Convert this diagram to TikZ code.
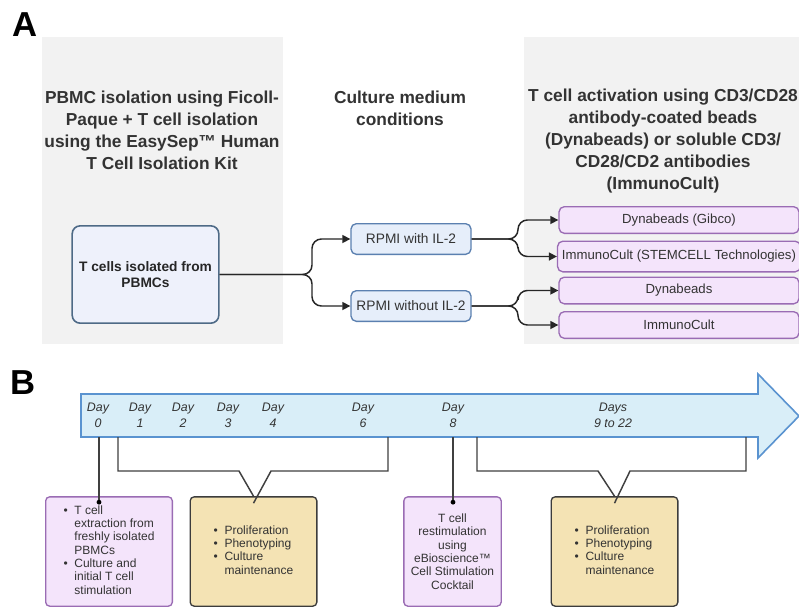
\documentclass[tikz,border=0pt]{standalone}
\usepackage{fontspec}
\setmainfont{Liberation Sans}
\usetikzlibrary{arrows.meta}

\definecolor{panelgray}{HTML}{F2F2F2}
\definecolor{txtgray}{HTML}{333333}
\definecolor{tcfill}{HTML}{EEF1FB}
\definecolor{tcline}{HTML}{4E6A86}
\definecolor{rpfill}{HTML}{E6EEFA}
\definecolor{rpline}{HTML}{5B80B0}
\definecolor{purfill}{HTML}{F4E4FB}
\definecolor{purline}{HTML}{9A6CB4}
\definecolor{begfill}{HTML}{F4E3B4}
\definecolor{begline}{HTML}{3C3C3C}
\definecolor{arrfill}{HTML}{D9EEF8}
\definecolor{arrline}{HTML}{5A93D0}

\begin{document}
\begin{tikzpicture}[x=0.75pt, y=-0.75pt,
  heading/.style={align=center, text=txtgray, font=\fontsize{13}{16.5}\selectfont\bfseries},
  panellabel/.style={anchor=north west, inner sep=0pt, font=\fontsize{26}{30}\selectfont\bfseries},
  rpmibox/.style={draw=rpline, fill=rpfill, line width=1pt, rounded corners=4pt,
    minimum width=90pt, minimum height=23pt, text=txtgray, font=\fontsize{10.3}{12}\selectfont},
  actbox/.style={draw=purline, fill=purfill, line width=1pt, rounded corners=4pt,
    minimum width=180pt, minimum height=20pt, text=txtgray, font=\fontsize{9.9}{11}\selectfont},
  infobox/.style={line width=1pt, rounded corners=3pt, minimum width=95pt, minimum height=82pt,
    text=txtgray, font=\fontsize{9}{10}\selectfont},
  branch/.style={draw=black!85, line width=1.1pt, rounded corners=7pt, -{Triangle[length=6pt,width=6pt]}},
  bracket/.style={draw=black!75, line width=1.1pt},
  daylabel/.style={align=center, text=txtgray, font=\fontsize{9.3}{12}\selectfont\itshape}]
  \clip (0,0) rectangle (799,608);
  \fill[white] (0,0) rectangle (799,608);

  %% ---- Panel A ----
  \node[panellabel] (labA) at (12,12) {A};
  \fill[panelgray] (42,37) rectangle (283,344);
  \fill[panelgray] (524,37) rectangle (812,344);

  \node[heading] (h1) at (162,130) {PBMC isolation using Ficoll-\\Paque + T cell isolation\\using the EasySep™ Human\\T Cell Isolation Kit};
  \node[heading] (h2) at (400,108) {Culture medium\\conditions};
  \node[heading] (h3) at (663,141) {T cell activation using CD3/CD28\\antibody-coated beads\\(Dynabeads) or soluble CD3/\\CD28/CD2 antibodies\\(ImmunoCult)};

  \node[draw=tcline, fill=tcfill, line width=1.2pt, rounded corners=6pt,
    minimum width=110pt, minimum height=73pt, align=center,
    font=\fontsize{10.3}{12.5}\selectfont\bfseries, text=black!85] (tcell) at (145.5,274.5)
    {T cells isolated from\\PBMCs};

  \node[rpmibox] (rpmi1) at (411,239) {RPMI with IL-2};
  \node[rpmibox] (rpmi2) at (411,306) {RPMI without IL-2};

  \node[actbox] (dyn1) at (679,220) {Dynabeads (Gibco)};
  \node[actbox, minimum height=23pt] (imm1) at (679,256.5) {ImmunoCult (STEMCELL Technologies)};
  \node[actbox] (dyn2) at (679,290.5) {Dynabeads};
  \node[actbox] (imm2) at (679,325) {ImmunoCult};

  \coordinate (s1) at (312,0);
  \coordinate (s2) at (518,0);
  \draw[branch] (tcell.east) -- (s1 |- tcell.east) |- (rpmi1.west);
  \draw[branch] (tcell.east) -- (s1 |- tcell.east) |- (rpmi2.west);
  \draw[branch] (rpmi1.east) -- (s2 |- rpmi1.east) |- (dyn1.west);
  \draw[branch] (rpmi1.east) -- (s2 |- rpmi1.east) |- (imm1.west);
  \draw[branch] (rpmi2.east) -- (s2 |- rpmi2.east) |- (dyn2.west);
  \draw[branch] (rpmi2.east) -- (s2 |- rpmi2.east) |- (imm2.west);

  %% ---- Panel B ----
  \node[panellabel] (labB) at (10,370) {B};
  \draw[fill=arrfill, draw=arrline, line width=1.2pt, line join=miter]
    (81,394) -- (758,394) -- (758,374) -- (799,416) -- (758,458) -- (758,437)
    -- (81,437) -- cycle;

  \foreach \dx/\dtxt [count=\i] in {98/0, 140/1, 183/2, 228/3, 273/4, 363/6, 453/8}
    \node[daylabel] (day\i) at (\dx,415) {Day\\\dtxt};
  \node[daylabel] (days) at (613,415) {Days\\9 to 22};

  \node[infobox, draw=purline, fill=purfill] (ext) at (109,551.5)
    {\begin{tabular}{@{}c@{\hspace{5pt}}l@{}}
      \textbullet & T cell\\ & extraction from\\ & freshly isolated\\ & PBMCs\\
      \textbullet & Culture and\\ & initial T cell\\ & stimulation
     \end{tabular}};
  \node[infobox, draw=begline, fill=begfill] (pro1) at (253.5,551.5)
    {\begin{tabular}{@{}c@{\hspace{5pt}}l@{}}
      \textbullet & Proliferation\\ \textbullet & Phenotyping\\
      \textbullet & Culture\\ & maintenance
     \end{tabular}};
  \node[infobox, draw=purline, fill=purfill, minimum width=73pt, align=center] (rest) at (452.5,551.5)
    {T cell\\restimulation\\using\\eBioscience™\\Cell Stimulation\\Cocktail};
  \node[infobox, draw=begline, fill=begfill] (pro2) at (614.5,551.5)
    {\begin{tabular}{@{}c@{\hspace{5pt}}l@{}}
      \textbullet & Proliferation\\ \textbullet & Phenotyping\\
      \textbullet & Culture\\ & maintenance
     \end{tabular}};

  %% Day markers down to their boxes
  \coordinate (d0) at (99,437);
  \coordinate (d8) at (453,437);
  \path (ext.north -| d0) ++(0,6) coordinate (e0);
  \path (rest.north -| d8) ++(0,6) coordinate (e8);
  \draw[bracket] (d0) -- (e0);
  \draw[bracket] (d8) -- (e8);
  \fill (e0) circle (2.4);
  \fill (e8) circle (2.4);

  %% Brackets over the culture periods
  \draw[bracket, line join=miter] (118,437) -- (118,471) -- (239,471) -- (pro1.north)
    ++(0,7) -- (271,471) -- (388,471) -- (388,437);
  \draw[bracket, line join=miter] (477,437) -- (477,471) -- (598,471) -- (pro2.north)
    ++(0,7) -- (630,471) -- (746,471) -- (746,437);
\end{tikzpicture}
\end{document}
